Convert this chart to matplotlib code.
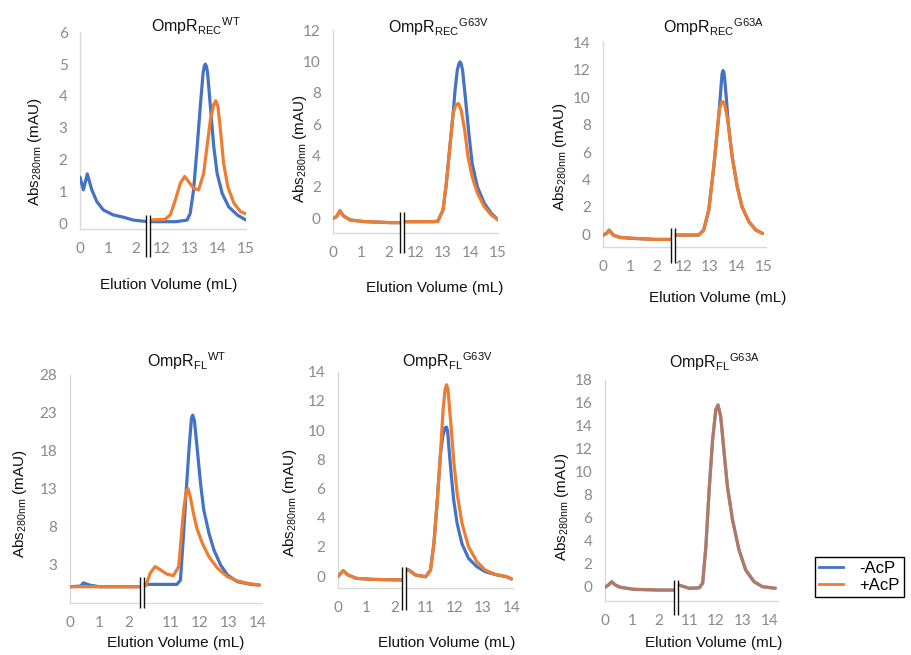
import numpy as np
import matplotlib
matplotlib.use("Agg")
import matplotlib.pyplot as plt
from matplotlib.transforms import blended_transform_factory, ScaledTranslation
from matplotlib.lines import Line2D

plt.rcParams['font.family'] = ['Liberation Sans', 'DejaVu Sans']
plt.rcParams['mathtext.fontset'] = 'custom'
plt.rcParams['mathtext.rm'] = 'Liberation Sans'
plt.rcParams['mathtext.it'] = 'Liberation Sans:italic'
plt.rcParams['mathtext.bf'] = 'Liberation Sans:bold'

# ---------------- data (elution volume mL, Abs280 mAU) ----------------
# OmpR_REC WT
rec_wt_minus_vol = [0, 0.12, 0.26, 0.42, 0.6, 0.83, 1.19, 1.55, 1.9, 2.44,
                    11.52, 12.5, 12.9, 13.01, 13.13, 13.25, 13.37, 13.47, 13.51, 13.55,
                    13.59, 13.63, 13.73, 13.85, 13.97, 14.15, 14.38, 14.69, 15.0]
rec_wt_minus_abs = [1.45, 1.05, 1.55, 1.05, 0.68, 0.42, 0.26, 0.19, 0.1, 0.05,
                    0.05, 0.05, 0.1, 0.31, 1.05, 2.3, 3.67, 4.72, 4.93, 5.0,
                    4.93, 4.72, 3.67, 2.41, 1.57, 0.94, 0.52, 0.26, 0.1]
rec_wt_plus_vol = [11.52, 12.1, 12.3, 12.48, 12.66, 12.81, 12.95, 13.13, 13.31, 13.49,
                   13.61, 13.73, 13.85, 13.92, 14.0, 14.09, 14.2, 14.35, 14.57, 14.81, 15.0]
rec_wt_plus_abs = [0.1, 0.12, 0.26, 0.73, 1.26, 1.47, 1.31, 1.1, 1.05, 1.57,
                   2.41, 3.25, 3.72, 3.85, 3.67, 2.93, 1.89, 1.15, 0.63, 0.36, 0.3]

# OmpR_REC G63V
rec_v_minus_vol = [0, 0.12, 0.24, 0.37, 0.61, 1.1, 2.08, 2.5,
                   11.51, 12.5, 12.81, 13.0, 13.12, 13.25, 13.37, 13.44, 13.52, 13.58,
                   13.62, 13.66, 13.71, 13.81, 13.94, 14.06, 14.25, 14.5, 14.75, 15.0]
rec_v_minus_abs = [0, 0.1, 0.48, 0.15, -0.11, -0.21, -0.28, -0.28,
                   -0.22, -0.22, -0.2, 0.53, 2.2, 4.56, 6.7, 8.2, 9.45, 9.85,
                   9.97, 9.85, 9.45, 7.75, 5.4, 3.5, 2.0, 0.96, 0.32, -0.1]
rec_v_plus_vol = [0, 0.12, 0.24, 0.37, 0.61, 1.1, 2.08, 2.5,
                  11.51, 12.5, 12.81, 13.0, 13.12, 13.25, 13.37, 13.46, 13.56,
                  13.66, 13.79, 13.91, 14.06, 14.25, 14.5, 14.75, 15.0]
rec_v_plus_abs = [0, 0.1, 0.48, 0.15, -0.11, -0.21, -0.28, -0.28,
                  -0.22, -0.22, -0.2, 0.53, 2.2, 4.56, 6.7, 7.2, 7.32,
                  6.9, 5.6, 3.9, 2.65, 1.6, 0.74, 0.21, -0.1]

# OmpR_REC G63A
rec_a_minus_vol = [0, 0.12, 0.22, 0.37, 0.61, 1.1, 1.96, 2.6,
                   11.59, 12.57, 12.76, 12.95, 13.14, 13.26, 13.35, 13.42, 13.45, 13.49,
                   13.52, 13.55, 13.62, 13.68, 13.83, 14.02, 14.2, 14.46, 14.72, 14.97]
rec_a_minus_abs = [-0.05, 0.07, 0.31, -0.05, -0.22, -0.29, -0.37, -0.37,
                   -0.05, -0.05, 0.31, 1.77, 4.93, 7.37, 9.2, 11.0, 11.7, 11.94,
                   11.8, 11.3, 9.7, 8.1, 5.66, 3.47, 2.0, 0.92, 0.31, 0.07]
rec_a_plus_vol = [0, 0.12, 0.22, 0.37, 0.61, 1.1, 1.96, 2.6,
                  11.59, 12.57, 12.76, 12.95, 13.14, 13.26, 13.35, 13.42, 13.48,
                  13.56, 13.68, 13.83, 14.02, 14.2, 14.46, 14.72, 14.97]
rec_a_plus_abs = [-0.05, 0.07, 0.31, -0.05, -0.22, -0.29, -0.37, -0.37,
                  -0.05, -0.05, 0.31, 1.77, 4.93, 7.37, 9.07, 9.6, 9.68,
                  9.4, 8.1, 5.66, 3.47, 2.0, 0.92, 0.31, 0.07]

# OmpR_FL WT
fl_wt_minus_vol = [0, 0.37, 0.46, 0.67, 1.0, 2.0, 2.46,
                   10.02, 11.23, 11.35, 11.46, 11.55, 11.65, 11.73, 11.77, 11.83, 11.92,
                   12.04, 12.15, 12.33, 12.5, 12.73, 12.96, 13.31, 13.77, 14.06]
fl_wt_minus_abs = [0.04, 0.13, 0.55, 0.26, 0.04, 0.04, 0.04,
                   0.35, 0.35, 0.9, 7.1, 12.8, 18.5, 22.3, 22.7, 22.0, 18.5,
                   13.7, 10.2, 7.1, 4.9, 2.9, 1.6, 0.7, 0.35, 0.26]
fl_wt_plus_vol = [0, 1.0, 2.0, 2.46,
                  10.02, 10.17, 10.31, 10.48, 10.65, 10.89, 11.11, 11.29, 11.37, 11.46,
                  11.55, 11.61, 11.69, 11.81, 11.92, 12.1, 12.33, 12.62, 12.96, 13.31,
                  13.65, 14.06]
fl_wt_plus_abs = [0.04, 0.04, 0.04, 0.04,
                  0.04, 0.2, 1.8, 2.7, 2.3, 1.7, 1.5, 2.7, 6.2, 10.2,
                  12.6, 13.0, 11.9, 9.5, 7.7, 5.8, 4.0, 2.5, 1.36, 0.8,
                  0.5, 0.26]

# OmpR_FL G63V
fl_v_minus_vol = [0, 0.19, 0.36, 0.65, 1.22, 2.25, 2.33,
                  10.26, 10.42, 10.65, 11.0, 11.17, 11.29, 11.4, 11.52, 11.6, 11.68,
                  11.73, 11.77, 11.81, 11.9, 11.98, 12.1, 12.27, 12.5, 12.79, 13.08,
                  13.43, 13.83, 14.0]
fl_v_minus_abs = [-0.05, 0.36, 0.07, -0.16, -0.23, -0.27, -0.27,
                  0.5, 0.4, 0.07, -0.05, 0.4, 2.25, 5.0, 8.4, 9.6, 10.15,
                  10.2, 9.9, 8.86, 6.8, 5.2, 3.6, 2.2, 1.2, 0.64, 0.3,
                  0.1, -0.05, -0.2]
fl_v_plus_vol = [0, 0.19, 0.36, 0.65, 1.22, 2.25, 2.33,
                 10.26, 10.42, 10.65, 11.0, 11.17, 11.29, 11.4, 11.52, 11.61, 11.68,
                 11.73, 11.78, 11.81, 11.89, 11.98, 12.1, 12.27, 12.5, 12.79, 13.08,
                 13.43, 13.83, 14.0]
fl_v_plus_abs = [-0.05, 0.36, 0.07, -0.16, -0.23, -0.27, -0.27,
                 0.5, 0.4, 0.07, -0.05, 0.4, 2.25, 5.0, 8.4, 11.4, 12.8,
                 13.1, 12.8, 12.05, 10.2, 7.9, 5.66, 3.6, 2.0, 0.98, 0.41,
                 0.12, -0.05, -0.2]

# OmpR_FL G63A (both traces overlap)
fl_a_minus_vol = [0, 0.13, 0.25, 0.38, 0.56, 1.07, 1.94, 2.64,
                  10.51, 10.6, 11.0, 11.37, 11.5, 11.62, 11.74, 11.87, 11.99, 12.07,
                  12.17, 12.3, 12.42, 12.61, 12.85, 13.1, 13.41, 13.72, 14.2]
fl_a_minus_abs = [-0.05, 0.15, 0.43, 0.15, -0.05, -0.23, -0.29, -0.3,
                  0.15, 0.15, -0.14, -0.1, 0.3, 3.5, 8.4, 12.8, 15.4, 15.8,
                  14.8, 11.6, 8.7, 5.8, 3.2, 1.45, 0.43, 0.0, -0.14]
fl_a_plus_vol = fl_a_minus_vol
fl_a_plus_abs = fl_a_minus_abs

series_labels = ['-AcP', '+AcP']
xticks_rec = [0, 1, 2, 12, 13, 14, 15]
xticks_fl = [0, 1, 2, 11, 12, 13, 14]
yticks_rec_wt = [0, 1, 2, 3, 4, 5, 6]
yticks_rec_v = [0, 2, 4, 6, 8, 10, 12]
yticks_rec_a = [0, 2, 4, 6, 8, 10, 12, 14]
yticks_fl_wt = [3, 8, 13, 18, 23, 28]
yticks_fl_v = [0, 2, 4, 6, 8, 10, 12, 14]
yticks_fl_a = [0, 2, 4, 6, 8, 10, 12, 14, 16, 18]

# ---------------- style / layout ----------------
BLUE = '#4472C4'
ORANGE = '#ED7D31'
W, H = 911, 655
LW = 2.3

panels = [
    dict(minus=(rec_wt_minus_vol, rec_wt_minus_abs), plus=(rec_wt_plus_vol, rec_wt_plus_abs),
         bl=2.44, br=11.52, xlim=15.0, ylim=(-0.18, 6), xticks=xticks_rec, yticks=yticks_rec_wt,
         box=(80, 246, 32.3, 229), brk=(215, 257),
         title=r'OmpR$_{\mathrm{REC}}$$^{\mathrm{WT}}$', tpos=(196, 32),
         xl=(169, 285), yl=(35, 152), alpha=1.0),
    dict(minus=(rec_v_minus_vol, rec_v_minus_abs), plus=(rec_v_plus_vol, rec_v_plus_abs),
         bl=2.5, br=11.51, xlim=15.0, ylim=(-0.96, 12), xticks=xticks_rec, yticks=yticks_rec_v,
         box=(333.3, 498, 30, 233.3), brk=(211.7, 253.3),
         title=r'OmpR$_{\mathrm{REC}}$$^{\mathrm{G63V}}$', tpos=(439, 33),
         xl=(435, 288), yl=(300, 149), alpha=1.0),
    dict(minus=(rec_a_minus_vol, rec_a_minus_abs), plus=(rec_a_plus_vol, rec_a_plus_abs),
         bl=2.6, br=11.59, xlim=15.1, ylim=(-0.9, 14), xticks=xticks_rec, yticks=yticks_rec_a,
         box=(603.3, 766, 42.3, 246.7), brk=(228.3, 263.3),
         title=r'OmpR$_{\mathrm{REC}}$$^{\mathrm{G63A}}$', tpos=(714, 33),
         xl=(718, 298), yl=(560, 157), alpha=1.0),
    dict(minus=(fl_wt_minus_vol, fl_wt_minus_abs), plus=(fl_wt_plus_vol, fl_wt_plus_abs),
         bl=2.46, br=10.02, xlim=14.15, ylim=(-2.07, 28), xticks=xticks_fl, yticks=yticks_fl_wt,
         box=(70, 262, 375, 602.7), brk=(576.7, 608.3),
         title=r'OmpR$_{\mathrm{FL}}$$^{\mathrm{WT}}$', tpos=(187, 367),
         xl=(176, 643), yl=(20, 504), alpha=1.0),
    dict(minus=(fl_v_minus_vol, fl_v_minus_abs), plus=(fl_v_plus_vol, fl_v_plus_abs),
         bl=2.33, br=10.26, xlim=14.05, ylim=(-0.84, 14), xticks=xticks_fl, yticks=yticks_fl_v,
         box=(337.7, 513, 371.6, 588.3), brk=(566.7, 610),
         title=r'OmpR$_{\mathrm{FL}}$$^{\mathrm{G63V}}$', tpos=(447, 367),
         xl=(447, 643), yl=(290, 503), alpha=1.0),
    dict(minus=(fl_a_minus_vol, fl_a_minus_abs), plus=(fl_a_plus_vol, fl_a_plus_abs),
         bl=2.64, br=10.51, xlim=14.3, ylim=(-1.22, 18), xticks=xticks_fl, yticks=yticks_fl_a,
         box=(605, 778, 379.7, 600.7), brk=(580, 615),
         title=r'OmpR$_{\mathrm{FL}}$$^{\mathrm{G63A}}$', tpos=(714, 368),
         xl=(714, 643), yl=(562, 507), alpha=0.65),
]


def make_break_scale(bl, br):
    gap = br - bl

    def fwd(v):
        v = np.asarray(v, dtype=float)
        return np.where(v <= bl, v, np.where(v >= br, v - gap, bl))

    def inv(u):
        u = np.asarray(u, dtype=float)
        return np.where(u <= bl, u, u + gap)
    return fwd, inv


fig = plt.figure(figsize=(W / 100, H / 100), dpi=100)


def fx(px):
    return px / W


def fy(py):
    return 1 - py / H


for p in panels:
    l, r, t, b = p['box']
    ax = fig.add_axes([fx(l), fy(b), (r - l) / W, (b - t) / H])
    ax.set_xscale('function', functions=make_break_scale(p['bl'], p['br']))
    ax.plot(p['minus'][0], p['minus'][1], color=BLUE, lw=LW, solid_capstyle='round',
            solid_joinstyle='round', zorder=3)
    ax.plot(p['plus'][0], p['plus'][1], color=ORANGE, lw=LW, alpha=p['alpha'],
            solid_capstyle='round', solid_joinstyle='round', zorder=4)
    ax.set_xlim(0, p['xlim'])
    ax.set_ylim(*p['ylim'])
    ax.set_xticks(p['xticks'])
    ax.set_xticklabels([str(v) for v in p['xticks']])
    ax.set_yticks(p['yticks'])
    ax.set_yticklabels([str(v) for v in p['yticks']])
    for s in ('top', 'right'):
        ax.spines[s].set_visible(False)
    for s in ('left', 'bottom'):
        ax.spines[s].set_color('#d9d9d9')
        ax.spines[s].set_linewidth(1.0)
    ax.tick_params(axis='both', length=0, labelsize=11, labelcolor='#8a8a8a')
    ax.tick_params(axis='x', pad=9.5)
    ax.tick_params(axis='y', pad=9)
    for lab in ax.get_xticklabels() + ax.get_yticklabels():
        lab.set_fontfamily(['Lato', 'DejaVu Sans'])
    ax.patch.set_alpha(0)

    # axis-break mark
    y0 = (b - p['brk'][1]) / (b - t)
    y1 = (b - p['brk'][0]) / (b - t)
    trans = blended_transform_factory(ax.transData, ax.transAxes)
    ax.plot([p['bl'], p['bl']], [y0, y1], transform=trans, color='white', lw=2.6,
            clip_on=False, zorder=6, solid_capstyle='butt')
    for dx in (-2.0, 2.0):
        tr = trans + ScaledTranslation(dx / 100, 0, fig.dpi_scale_trans)
        ax.plot([p['bl'], p['bl']], [y0, y1], transform=tr, color='#111111', lw=1.0,
                clip_on=False, zorder=7, solid_capstyle='butt')

    fig.text(fx(p['tpos'][0]), fy(p['tpos'][1]), p['title'], ha='center', va='baseline',
             fontsize=11.5, color='#111111')
    fig.text(fx(p['xl'][0]), fy(p['xl'][1]), 'Elution Volume (mL)', ha='center', va='center',
             fontsize=11, color='#111111')
    fig.text(fx(p['yl'][0]), fy(p['yl'][1]), r'Abs$_{\mathrm{280nm}}$ (mAU)', ha='center',
             va='center', rotation=90, fontsize=11, color='#111111')

handles = [Line2D([], [], color=BLUE, lw=2.0), Line2D([], [], color=ORANGE, lw=2.0)]
leg = fig.legend(handles, series_labels, loc='upper left', bbox_to_anchor=(fx(815), fy(557)),
                 borderaxespad=0, fontsize=12, frameon=True, fancybox=False, framealpha=1,
                 edgecolor='black', handlelength=1.4, handletextpad=1.0, borderpad=0.25,
                 labelspacing=0.1)
leg.get_frame().set_linewidth(1.0)

fig.savefig('out.png', dpi=100)
